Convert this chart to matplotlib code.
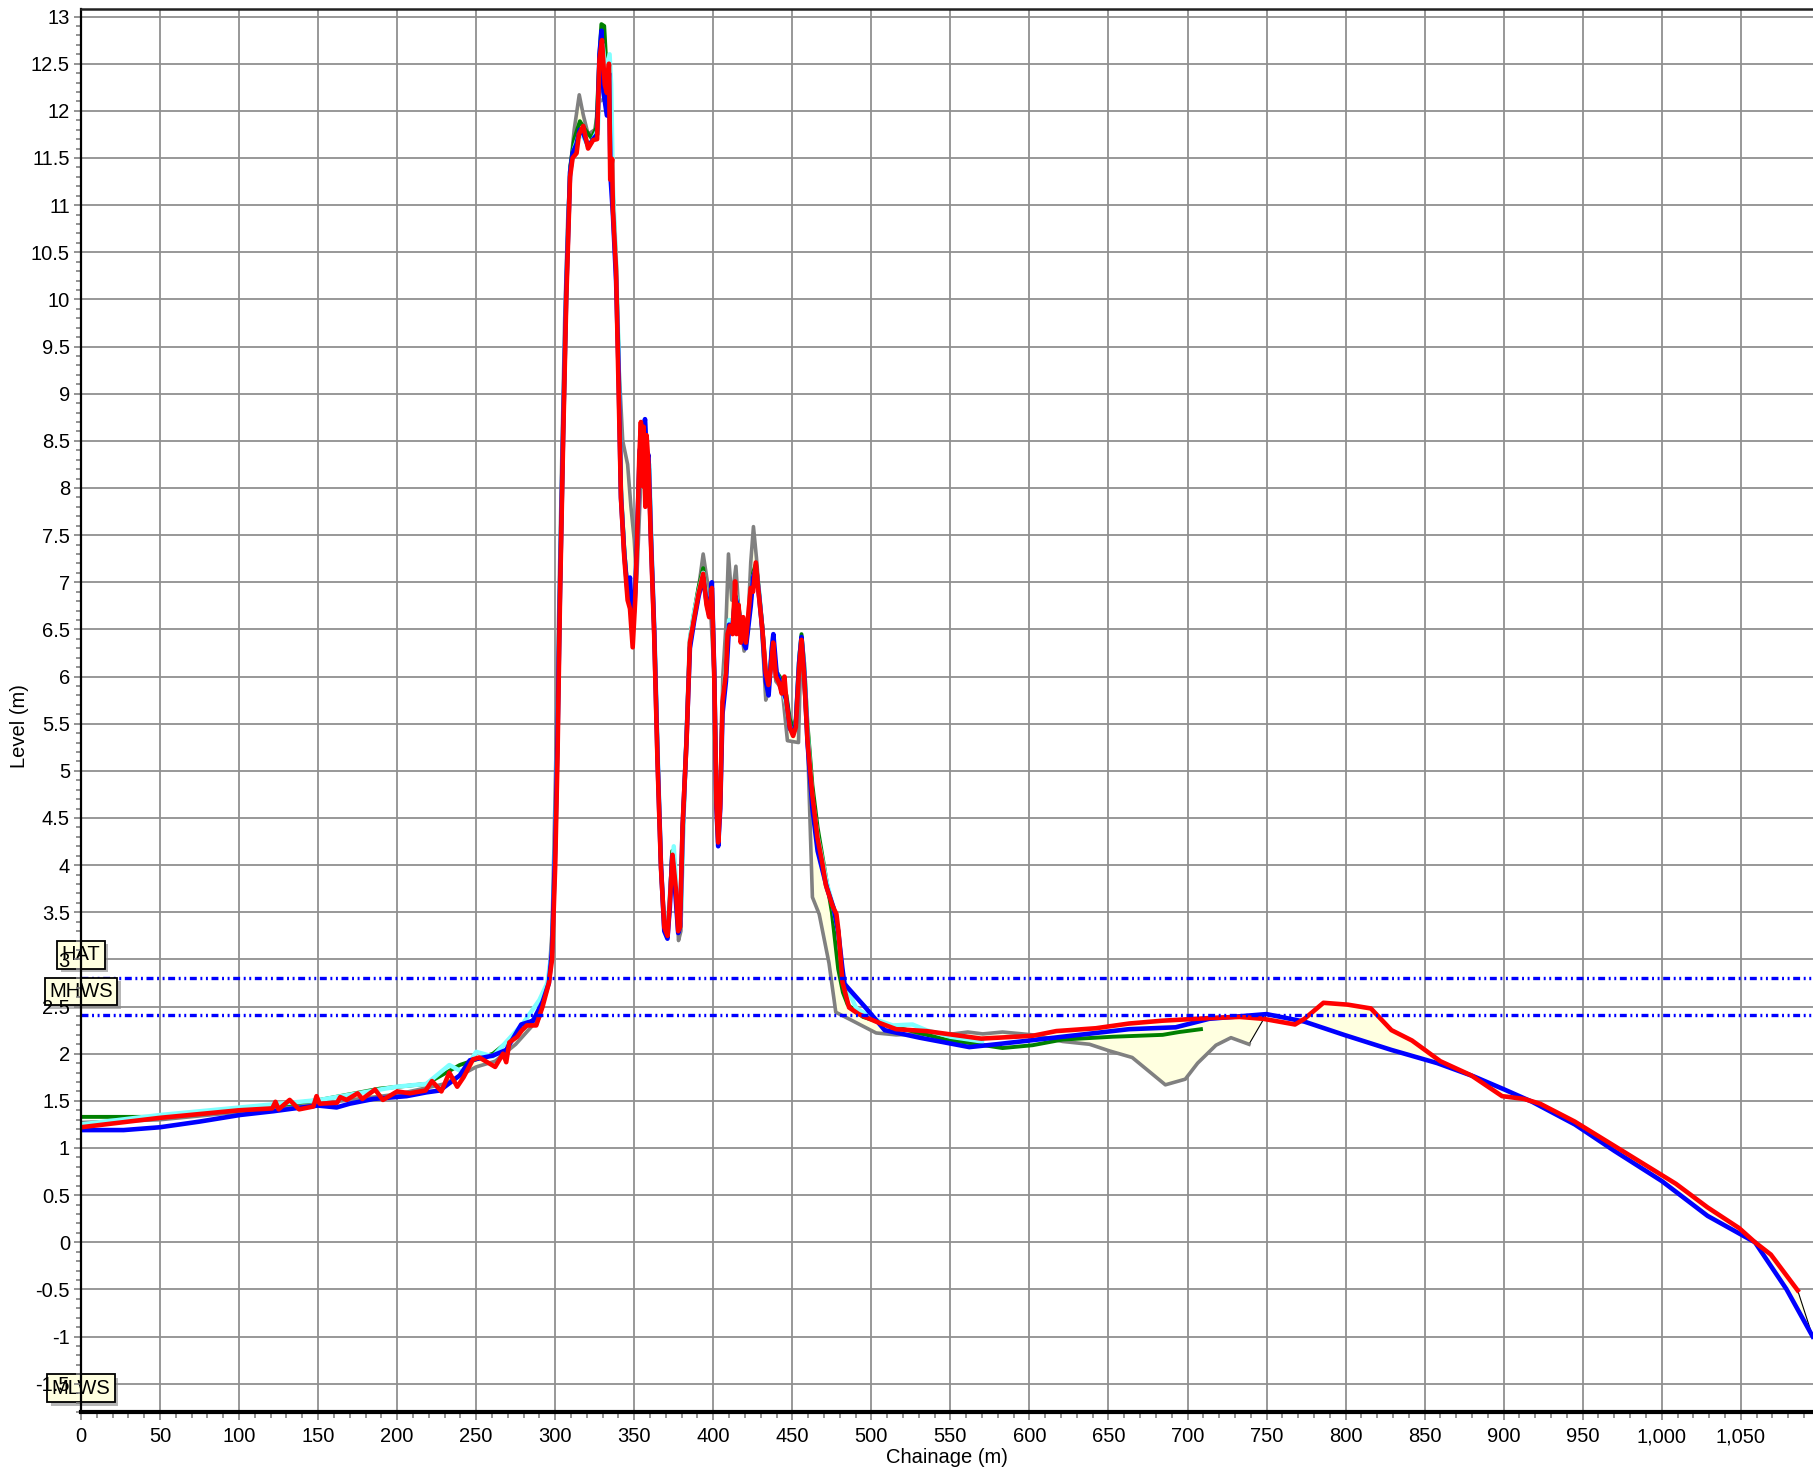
import numpy as np
import matplotlib
matplotlib.use('Agg')
import matplotlib.pyplot as plt
from matplotlib.ticker import MultipleLocator, FuncFormatter
import matplotlib.patheffects as pe

plt.rcParams['font.family'] = ['Liberation Sans', 'DejaVu Sans']
plt.rcParams['lines.scale_dashes'] = False

# survey profiles as (chainage m, level m), oldest first
grey_profile = [
    (0, 1.27), (50, 1.30), (100, 1.38), (150, 1.47), (200, 1.57), (230, 1.68), (250, 1.86),
    (262, 1.92), (275, 2.10), (290, 2.38), (296, 2.8), (298, 3.3), (300, 4.8), (302, 6.5),
    (304, 8.2), (306, 9.8), (308, 10.9), (309.8, 11.43), (312, 11.8), (315.2, 12.17),
    (317.7, 11.96), (320.8, 11.75), (325, 11.8), (328, 12.1), (330.2, 12.12), (333.3, 12.08),
    (335.4, 12.03), (336.5, 11.18), (338.5, 10.3), (340, 9.4), (342.7, 8.5), (345.8, 8.25),
    (347.9, 7.8), (350, 7.45), (351.5, 7.0), (353, 7.6), (355, 8.4), (357, 8.5), (359, 8.1),
    (361, 7.3), (363, 6.3), (365, 5.0), (367, 3.9), (369, 3.4), (371, 3.3), (373, 3.7),
    (374.5, 4.05), (376.5, 3.7), (378, 3.2), (379.5, 3.3), (381, 4.3), (383, 5.3), (385.2, 6.4),
    (388, 6.7), (390.7, 6.94), (393.6, 7.30), (396.4, 6.99), (398.5, 6.63), (400.6, 6.0),
    (402, 4.7), (403.1, 4.3), (404.4, 4.7), (406, 6.0), (408, 6.54), (409.6, 7.30),
    (411.7, 6.81), (414.3, 7.17), (416.4, 6.63), (419.5, 6.27), (421.6, 6.45), (423.7, 7.21),
    (425.4, 7.59), (427.3, 7.26), (429, 6.9), (431, 6.4), (433.2, 5.75), (435, 5.85),
    (437.5, 6.3), (439.6, 5.95), (442, 5.9), (444, 5.8), (446.9, 5.32), (453.9, 5.30),
    (455.5, 6.3), (457.5, 5.9), (459.6, 5.33), (461.5, 4.3), (462.7, 3.66), (467, 3.48),
    (473.2, 2.96), (477.5, 2.44), (488, 2.35), (503, 2.22), (515.7, 2.20), (534.7, 2.21),
    (551.6, 2.21), (561, 2.23), (570.5, 2.21), (583, 2.23), (602, 2.20), (621, 2.13),
    (638, 2.10), (650.6, 2.03), (665, 1.96), (686, 1.67), (698.6, 1.73), (706.4, 1.90),
    (718, 2.09), (727.5, 2.17), (738.9, 2.10),
]

green_profile = [
    (0, 1.33), (50, 1.33), (100.6, 1.40), (151, 1.51), (189, 1.63), (218.5, 1.68),
    (239.6, 1.88), (260.6, 2.0), (277.5, 2.23), (290, 2.42), (296, 2.8), (298, 3.1),
    (300, 4.3), (301.5, 5.4), (303, 6.9), (305, 8.6), (307, 10.1), (309.4, 11.4), (312, 11.7),
    (315.6, 11.89), (319, 11.8), (323, 11.71), (326, 11.82), (328, 12.6), (329.2, 12.92),
    (331, 12.9), (333, 12.3), (334.4, 12.0), (335.4, 11.68), (336.5, 11.1), (338.5, 10.4),
    (340, 9.5), (341.6, 8.0), (343.7, 7.35), (345.8, 6.9), (347.3, 6.85), (349, 6.45),
    (350.6, 6.9), (352, 7.6), (353.5, 8.4), (355, 8.55), (356.8, 8.65), (358, 8.3),
    (359.5, 8.2), (361, 7.3), (363, 6.3), (365, 5.05), (367, 3.95), (369, 3.35), (371, 3.3),
    (372.5, 3.65), (374, 4.15), (376, 3.8), (377.8, 3.35), (379, 3.4), (380.6, 4.4),
    (383, 5.35), (385.2, 6.4), (388, 6.7), (390.7, 6.95), (393.6, 7.15), (395.7, 6.85),
    (397.4, 6.7), (399.1, 6.95), (400.6, 6.05), (402, 4.7), (403.1, 4.3), (404.4, 4.7),
    (405.8, 5.7), (408, 6.1), (410, 6.6), (412, 6.55), (414, 6.9), (416, 6.75), (418, 6.5),
    (420.6, 6.4), (423.7, 6.85), (425.2, 7.1), (427, 7.2), (429, 6.9), (431, 6.55),
    (433.2, 6.05), (435, 5.95), (437.5, 6.35), (440, 6.05), (442, 6.0), (444, 5.9),
    (446.3, 5.8), (448.4, 5.55), (450.5, 5.45), (452.2, 5.55), (454.3, 6.2), (455.8, 6.45),
    (457.5, 6.15), (459.6, 5.5), (462.7, 4.85), (466, 4.4), (469, 4.1), (472, 3.8),
    (475, 3.5), (477, 3.2), (479, 2.9), (482, 2.65), (485, 2.52), (494.7, 2.39),
    (515.7, 2.28), (547.3, 2.15), (583, 2.06), (602, 2.09), (621, 2.15), (652.7, 2.18),
    (684.3, 2.20), (694.8, 2.23), (708.5, 2.26),
]

cyan_profile = [
    (0, 1.25), (50, 1.35), (100.6, 1.43), (151, 1.51), (199.6, 1.65), (218.5, 1.68),
    (233, 1.88), (242, 1.80), (250, 2.02), (260.6, 1.97), (279.6, 2.32), (290, 2.57),
    (295, 2.75), (298, 3.1), (300, 4.3), (301.5, 5.4), (303, 6.9), (305, 8.6), (307, 10.1),
    (309.4, 11.35), (312, 11.6), (315, 11.75), (318, 11.72), (321, 11.62), (324, 11.7),
    (327, 11.8), (328.5, 12.5), (330, 12.7), (332, 12.4), (334.4, 12.6), (335.4, 12.28),
    (336.5, 11.2), (338.5, 10.4), (340, 9.5), (341.6, 7.95), (343.7, 7.3), (345.8, 6.85),
    (347.3, 6.9), (349, 6.45), (350.6, 6.9), (352, 7.6), (353.5, 8.4), (355, 8.55),
    (356.8, 8.7), (358, 8.3), (359.5, 8.25), (361, 7.35), (363, 6.35), (365, 5.1), (367, 3.95),
    (369, 3.35), (371, 3.3), (373, 3.8), (375, 4.2), (376.5, 3.8), (378, 3.3), (379.5, 3.45),
    (381, 4.4), (383, 5.35), (385.2, 6.4), (388, 6.7), (390.7, 6.9), (393.6, 7.1),
    (395.7, 6.85), (397.4, 6.7), (399.1, 6.95), (400.6, 6.05), (402, 4.7), (403.1, 4.3),
    (404.4, 4.7), (405.8, 5.7), (408, 6.1), (410, 6.6), (412, 6.5), (414, 6.9), (416, 6.7),
    (418, 6.45), (420.6, 6.35), (423.7, 6.8), (425.2, 7.05), (427, 7.15), (429, 6.9),
    (431, 6.5), (433.2, 6.0), (435, 5.9), (437.5, 6.35), (440, 6.05), (442, 5.95),
    (444, 5.85), (446.3, 5.7), (448.4, 5.45), (450.5, 5.4), (452.2, 5.5), (454.3, 6.15),
    (455.8, 6.4), (457.5, 6.1), (459.6, 5.4), (462.7, 4.7), (466, 4.3), (469, 4.05),
    (472, 3.8), (476, 3.55), (479, 3.3), (482, 2.8), (490.5, 2.48), (503, 2.36),
    (513.6, 2.30), (526, 2.31), (534.7, 2.25), (550, 2.18), (570, 2.13),
]

blue_profile = [
    (0, 1.19), (27, 1.19), (50, 1.22), (75, 1.28), (100.6, 1.35), (121.7, 1.39), (135, 1.42),
    (150, 1.45), (161.7, 1.43), (170, 1.47), (185, 1.52), (206, 1.55), (218.5, 1.59),
    (227, 1.61), (239.6, 1.77), (246, 1.93), (260.6, 1.98), (269, 2.04), (278.5, 2.31),
    (286, 2.35), (292, 2.55), (296, 2.75), (298, 3.1), (300, 4.2), (301.5, 5.4), (303, 6.9),
    (305, 8.6), (307, 10.1), (309.4, 11.35), (311, 11.55), (313.5, 11.65), (315.5, 11.8),
    (318, 11.75), (321, 11.62), (324, 11.7), (326.5, 11.75), (328, 12.6), (329.3, 12.85),
    (330.5, 12.2), (332.7, 11.95), (334, 12.4), (335, 11.3), (336.5, 10.9), (338.5, 10.2),
    (340, 9.3), (341.6, 7.9), (343.7, 7.3), (345.8, 6.9), (347.3, 7.05), (349, 6.5),
    (350.6, 6.9), (352, 7.6), (353.5, 8.4), (355, 8.5), (356.8, 8.73), (358, 8.3),
    (359, 8.35), (360.5, 7.5), (362.6, 6.5), (364.7, 5.15), (366.9, 4.0), (369, 3.3),
    (371, 3.22), (372.5, 3.55), (374, 4.1), (376, 3.7), (377.8, 3.28), (379, 3.35),
    (380.6, 4.4), (383, 5.3), (385.2, 6.3), (388, 6.6), (390.7, 6.85), (393.6, 7.05),
    (395.7, 6.8), (397.4, 6.65), (399.1, 7.0), (400.6, 6.05), (402, 4.6), (403.1, 4.2),
    (404.4, 4.6), (405.8, 5.6), (408, 5.95), (410, 6.55), (412, 6.5), (414, 6.85), (416, 6.7),
    (418, 6.4), (420.6, 6.3), (423.7, 6.75), (425.2, 7.05), (427, 7.15), (429, 6.85),
    (431, 6.5), (433.2, 5.95), (435, 5.8), (437, 6.3), (438, 6.45), (440, 6.05), (442, 5.95),
    (444, 5.85), (446.3, 5.75), (448.4, 5.45), (450.5, 5.4), (452.2, 5.5), (454.3, 6.15),
    (455.8, 6.42), (457.5, 6.05), (459.6, 5.3), (462.7, 4.6), (466, 4.15), (469, 3.95),
    (472, 3.75), (476, 3.55), (479, 3.3), (481.7, 2.9), (483, 2.74), (496.8, 2.48),
    (508.4, 2.25), (530.5, 2.17), (562, 2.07), (579, 2.10), (600, 2.14), (631.6, 2.20),
    (663, 2.26), (692.5, 2.28), (713.6, 2.37), (750, 2.42), (774, 2.34), (799, 2.2),
    (829, 2.04), (858, 1.90), (881, 1.76), (900.5, 1.62), (918, 1.49), (945, 1.25),
    (970, 0.97), (1000, 0.65), (1029, 0.28), (1059, 0.0), (1079, -0.5), (1095.5, -1.0),
]

red_profile = [
    (0, 1.22), (25, 1.27), (50, 1.32), (75, 1.36), (100, 1.40), (121, 1.42), (123, 1.49),
    (125, 1.41), (132, 1.51), (138, 1.41), (147, 1.44), (149, 1.55), (151, 1.47), (162, 1.48),
    (164, 1.54), (168, 1.51), (172, 1.55), (175, 1.58), (178, 1.52), (186, 1.62), (191, 1.51),
    (200, 1.60), (208, 1.58), (218, 1.61), (222, 1.71), (228, 1.60), (233, 1.80), (238, 1.65),
    (242, 1.75), (248, 1.94), (252, 1.96), (262, 1.86), (267, 2.00), (269, 1.91), (271, 2.12),
    (276, 2.18), (279, 2.25), (282, 2.30), (288, 2.30), (292, 2.50), (296, 2.75), (298, 3.0),
    (300, 4.0), (301.5, 5.2), (303, 6.8), (305, 8.5), (307, 10.0), (309.4, 11.3),
    (311, 11.5), (313.5, 11.55), (315, 11.75), (317.7, 11.84), (320.8, 11.6), (324, 11.69),
    (326.5, 11.7), (328, 12.55), (329.6, 12.75), (331.3, 12.28), (332.7, 12.19), (334, 12.5),
    (334.8, 11.27), (336, 11.49), (336.5, 10.96), (338.5, 10.3), (339.6, 9.42), (341.6, 7.89),
    (343.7, 7.26), (345.8, 6.81), (347.3, 6.72), (349, 6.31), (350.6, 6.81), (352, 7.57),
    (353.2, 8.34), (354.2, 8.70), (355.3, 8.02), (355.9, 8.65), (357, 7.8), (357.8, 8.56),
    (359, 8.25), (360.5, 7.44), (362.6, 6.45), (364.7, 5.10), (366.9, 3.97), (369, 3.34),
    (371.1, 3.25), (372.5, 3.61), (374.2, 4.11), (376.3, 3.75), (377.8, 3.30), (378.9, 3.34),
    (380.6, 4.42), (383.1, 5.32), (385.2, 6.36), (388, 6.63), (390.7, 6.88), (393.6, 7.09),
    (395.7, 6.76), (397.4, 6.63), (399.1, 6.94), (400.6, 6.0), (402, 4.65), (403.1, 4.24),
    (404.4, 4.65), (405.8, 5.73), (408, 6.04), (409, 6.45), (410.5, 6.54), (412.2, 6.45),
    (413.8, 7.01), (414.7, 6.45), (416, 6.76), (417.4, 6.36), (418.9, 6.63), (420.6, 6.36),
    (422, 6.63), (423.7, 6.94), (425.2, 6.9), (426.9, 7.21), (428.6, 6.9), (431.1, 6.49),
    (433.2, 6.04), (434.9, 5.91), (436.4, 6.09), (437.9, 6.36), (439.6, 6.0), (441.7, 5.93),
    (443.3, 5.82), (445, 6.0), (446.3, 5.73), (448.4, 5.46), (450.5, 5.37), (452.2, 5.46),
    (454.3, 6.09), (455.8, 6.39), (457.5, 6.0), (459.6, 5.32), (462.7, 4.74), (465.9, 4.29),
    (469, 4.02), (471.2, 3.79), (475.4, 3.57), (477.9, 3.48), (479.2, 3.30), (481.7, 2.76),
    (485.9, 2.49), (492, 2.42), (503, 2.34), (515.7, 2.26), (534.7, 2.24), (569.5, 2.16),
    (602, 2.19), (617, 2.24), (642, 2.27), (663, 2.32), (684, 2.35), (716, 2.38), (733, 2.39),
    (748, 2.37), (768, 2.31), (774, 2.37), (786, 2.54), (801.5, 2.52), (816, 2.48),
    (829, 2.25), (842, 2.14), (860, 1.92), (879.5, 1.77), (899, 1.55), (913, 1.52),
    (923, 1.47), (945, 1.28), (975, 0.97), (1009, 0.62), (1029, 0.37), (1049, 0.15),
    (1059, 0.0), (1069, -0.13), (1086, -0.51),
]

profiles = [
    (grey_profile, '#808080', 2.6),
    (green_profile, '#008000', 2.8),
    (cyan_profile, '#80ffff', 3.2),
    (blue_profile, '#0000ff', 3.3),
    (red_profile, '#ff0000', 3.3),
]

tide_names = ['HAT', 'MHWS', 'MLWS']
tide_levels = [2.80, 2.41, -1.80]

fig = plt.figure(figsize=(18.13, 14.69), dpi=100)
pos = [81 / 1813, 57 / 1469, 1732 / 1813, 1403 / 1469]
ax = fig.add_axes(pos)

grey = np.array(grey_profile).T
blue = np.array(blue_profile).T
red = np.array(red_profile).T

# change area between the baseline survey and the latest one
tail = blue[0] >= 748
poly_x = np.r_[red[0], blue[0][tail][::-1], grey[0][::-1]]
poly_y = np.r_[red[1], blue[1][tail][::-1], grey[1][::-1]]
ax.fill(poly_x, poly_y, facecolor='#ffffe0', edgecolor='black', lw=0.8, zorder=1.8)

for prof, col, lw in profiles:
    x, y = np.array(prof).T
    ax.plot(x, y, color=col, lw=lw, zorder=2, solid_joinstyle='round')

for name, lev in zip(tide_names, tide_levels):
    ax.axhline(lev, color='#0000ff', lw=2.4, ls=(0, (5, 2.6, 1.4, 2.6, 1.4, 2.6)), zorder=3)
    t = ax.text(0, lev + 0.25, name, ha='center', va='center', fontsize=14.5, zorder=4,
                clip_on=False,
                bbox=dict(boxstyle='square,pad=0.22', fc='#ffffe0', ec='black', lw=1.3))
    t.get_bbox_patch().set_path_effects([
        pe.SimplePatchShadow(offset=(2.5, -2.5), shadow_rgbFace='#888888', alpha=0.6),
        pe.Normal()])

ax.set_xlim(0, 1095.7)
ax.set_ylim(-1.8, 13.08)
ax.xaxis.set_major_locator(MultipleLocator(50))
ax.xaxis.set_minor_locator(MultipleLocator(10))
ax.yaxis.set_major_locator(MultipleLocator(0.5))
ax.yaxis.set_minor_locator(MultipleLocator(0.1))
ax.xaxis.set_major_formatter(FuncFormatter(lambda v, p: f'{v:,.0f}'))
ax.yaxis.set_major_formatter(FuncFormatter(lambda v, p: f'{v:g}'))
ax.grid(True, which='major', color='#909090', lw=1.3)
ax.tick_params(axis='x', which='both', direction='out', color='#808080', width=1.2,
               labelsize=14.5, pad=5)
ax.tick_params(axis='x', which='major', length=6)
ax.tick_params(axis='x', which='minor', length=4)
ax.tick_params(axis='y', which='both', left=False, labelleft=False)
for s in ax.spines.values():
    s.set_visible(False)
ax.set_xlabel('Chainage (m)', fontsize=14.5, labelpad=1)

# overlay axes so the y labels and spines sit over the level boxes
ax2 = fig.add_axes(pos, sharex=ax, sharey=ax)
ax2.patch.set_visible(False)
ax2.tick_params(axis='x', which='both', bottom=False, labelbottom=False)
ax2.tick_params(axis='y', which='both', direction='out', color='#808080', width=1.2,
                labelsize=14.5, pad=3)
ax2.tick_params(axis='y', which='major', length=5)
ax2.tick_params(axis='y', which='minor', length=3.5)
ax2.spines['right'].set_visible(False)
ax2.spines['left'].set_linewidth(1.6)
ax2.spines['bottom'].set_linewidth(3.0)
ax2.spines['top'].set_linewidth(1.8)
ax2.spines['top'].set_color('#222222')
ax2.set_ylabel('Level (m)', fontsize=14.5)
ax2.yaxis.set_label_coords(-0.030, 0.489)

fig.savefig('out.png', dpi=100)
